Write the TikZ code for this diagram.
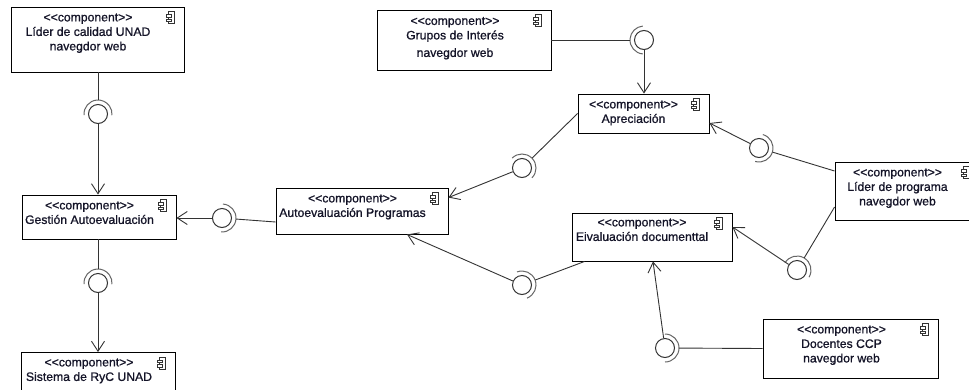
\documentclass[tikz,border=0pt]{standalone}
\usepackage{fontspec}
\setmainfont{Liberation Sans}[FakeBold=0.9]
\usetikzlibrary{arrows.meta}
\definecolor{linec}{HTML}{333333}
\definecolor{sockc}{HTML}{666666}
\definecolor{textc}{HTML}{141428}
\newcommand\stereo{<\kern0pt<component>\kern0pt>}
\tikzset{
  box/.style={draw=black, line width=0.9pt, rectangle, inner sep=0pt, fill=white},
  txt/.style={anchor=north, inner sep=0pt, align=center, text=textc, font=\fontsize{12.2}{14.5}\selectfont},
  ball/.style={circle, draw=linec, line width=1pt, minimum size=19pt, inner sep=0pt},
  sock/.style={circle, minimum size=28pt, inner sep=0pt},
  conn/.style={draw=linec, line width=0.9pt},
  arr/.style={conn, -{Straight Barb[length=10pt,width=13pt]}},
  sockarc/.style={draw=sockc, line width=1pt},
  compicon/.pic={
    \draw[line width=0.8pt, draw=linec] (-16,5) rectangle (-10,17);
    \draw[line width=0.8pt, draw=linec, fill=white] (-18,8) rectangle (-13.5,10.5);
    \draw[line width=0.8pt, draw=linec, fill=white] (-18,12.5) rectangle (-13.5,15);
  }
}
\begin{document}
\begin{tikzpicture}[x=1pt,y=-1pt]
\useasboundingbox (0,0) rectangle (969,389);
\fill[white] (0,0) rectangle (969,389);

% component boxes
\node[box, minimum width=173pt, minimum height=65pt] (lc) at (97.5,39.5) {};
\node[box, minimum width=154pt, minimum height=44pt] (ge) at (99,217) {};
\node[box, minimum width=154pt, minimum height=48pt] (sy) at (98,376.5) {};
\node[box, minimum width=172pt, minimum height=46pt] (ap) at (362,211) {};
\node[box, minimum width=174pt, minimum height=60pt] (gi) at (464,40) {};
\node[box, minimum width=131pt, minimum height=39pt] (apr) at (643.5,113.5) {};
\node[box, minimum width=160pt, minimum height=48pt] (ev) at (652,237) {};
\node[box, minimum width=144pt, minimum height=58pt] (lp) at (907,191) {};
\node[box, minimum width=175pt, minimum height=59pt] (dc) at (850.5,348.5) {};

% texts
\node[txt] (lct) at ([xshift=-9.5pt,yshift=-4.5pt]lc.north) {\strut\stereo\\Líder de calidad UNAD\\navegdor web};
\node[txt] (get) at ([xshift=-9.5pt,yshift=-4.5pt]ge.north) {\strut\stereo\\Gestión Autoevaluación};
\node[txt] (syt) at ([xshift=-9pt,yshift=-4pt]sy.north) {\strut\stereo\\Sistema de RyC UNAD};
\node[txt] (apt) at ([xshift=-9.5pt,yshift=-4.5pt]ap.north) {\strut\stereo\\Autoevaluación Programas};
\node[txt] (git) at ([xshift=-9pt,yshift=-5pt]gi.north) {\strut\stereo\\Grupos de Interés\\[3pt]navegdor web};
\node[txt] (aprt) at ([xshift=-10pt,yshift=-4.5pt]apr.north) {\strut\stereo\\Apreciación};
\node[txt] (evt) at ([xshift=-10pt,yshift=-3.5pt]ev.north) {\strut\stereo\\Eivaluación documenttal};
\node[txt] (lpt) at ([xshift=-9.5pt,yshift=-4.5pt]lp.north) {\strut\stereo\\Líder de programa\\navegdor web};
\node[txt] (dct) at ([xshift=-9pt,yshift=-4.5pt]dc.north) {\strut\stereo\\Docentes CCP\\navegdor web};

% component icons
\foreach \b in {lc,ge,sy,ap,gi,apr,ev,lp,dc} {
  \pic at (\b.north east) {compicon};
}

% interfaces: balls and sockets
\foreach \n/\px/\py in {A/98/114, B/222/218, C/98/283, D/644/40, E/522/168, F/759/148, G/797/270, H/522/285, I/665/348} {
  \node[ball] (b\n) at (\px,\py) {};
  \node[sock] (s\n) at (\px,\py) {};
}
\foreach \n/\a/\e in {A/-185/5, B/-86/94, C/-185/5, D/95/265, E/-135/45, F/-74/106, G/-149/31, H/-111/69, I/-90/90} {
  \draw[sockarc] (b\n.center) ++(\a:14) arc[start angle=\a, end angle=\e, radius=14];
}

% requiring side: component to socket
\draw[conn] (bA |- lc.south) -- (sA);
\draw[conn] ([yshift=-11pt]ap.west) -- (sB);
\draw[conn] (bC |- ge.south) -- (sC);
\draw[conn] (gi.east) -- (sD);
\draw[conn] (apr.west) -- (sE);
\draw[conn] ([yshift=20pt]lp.west) -- (sF);
\draw[conn] ([yshift=-16pt]lp.west) -- (sG);
\draw[conn] ([xshift=13pt]ev.south west) -- (sH);
\draw[conn] (dc.west) -- (sI);

% providing side: ball to component
\draw[arr] (bA) -- (bA |- ge.north);
\draw[arr] (bB) -- (bB -| ge.east);
\draw[arr] (bC) -- (bC |- sy.north);
\draw[arr] (bD) -- (bD |- apr.north);
\draw[arr] (bE) -- ([yshift=-10pt]ap.north east);
\draw[arr] (bF) -- ([yshift=-9.5pt]apr.east);
\draw[arr] (bG) -- ([yshift=10pt]ev.east);
\draw[arr] (bH) -- ([xshift=45pt]ap.south);
\draw[arr] (bI) -- ([xshift=1pt]ev.south);
\end{tikzpicture}
\end{document}
